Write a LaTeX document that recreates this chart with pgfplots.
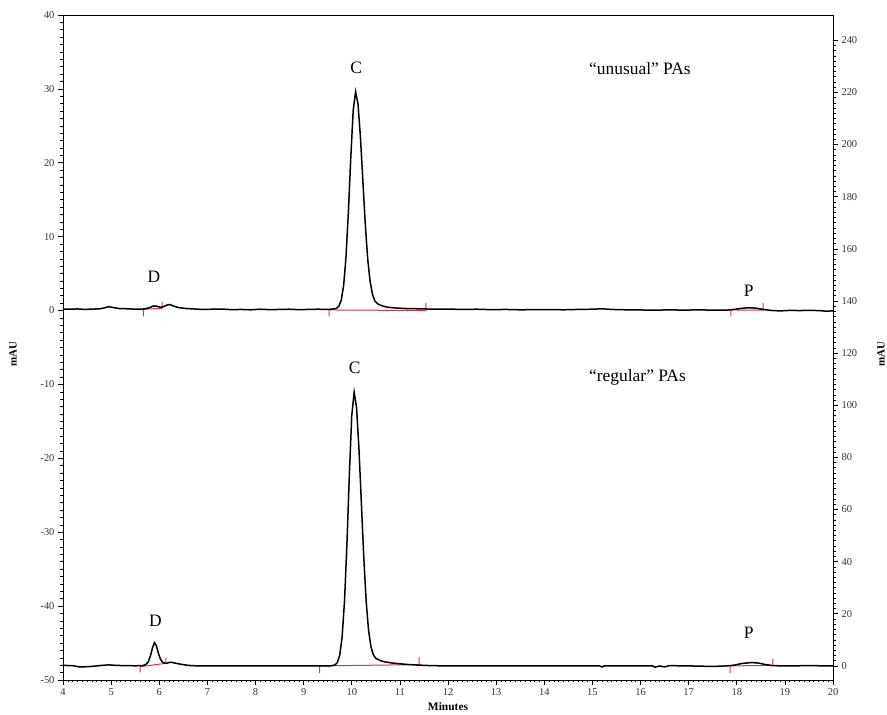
\documentclass[border=0pt]{standalone}
\usepackage{fontspec}
\setmainfont{Liberation Serif}
\usepackage{pgfplots}
\pgfplotsset{compat=1.18}
\definecolor{redbase}{RGB}{210,55,70}
\definecolor{tickgray}{RGB}{50,50,50}
\begin{document}
\begin{tikzpicture}
\pgfplotsset{
  common/.style={
    scale only axis, width=770bp, height=665bp,
    xmin=4, xmax=20,
    tick align=outside,
    major tick length=5bp, minor tick length=2.5bp,
    tick style={line width=0.6bp, black},
    ticklabel style={font=\fontsize{10.5}{12}\selectfont, text=tickgray},
    /pgf/number format/assume math mode=true,
    axis line style={line width=0.8bp},
  }
}
\begin{axis}[common,
  ymin=-50, ymax=40, ytick={-50,-40,...,40}, minor y tick num=9,
  xtick={4,...,20}, minor x tick num=9,
  xtick pos=bottom, ytick pos=left,
  xlabel={\bfseries Minutes},
  xlabel style={at={(rel axis cs:0.5,0)}, anchor=center, yshift=-27bp, font=\fontsize{11.5}{13}\selectfont},
]
\coordinate (SW) at (rel axis cs:0,0);
\coordinate (NE) at (rel axis cs:1,1);
\coordinate (LM) at (rel axis cs:0,0.49);
\coordinate (RM) at (rel axis cs:1,0.49);
% red baselines (top trace)
\addplot[redbase, line width=1bp] coordinates {(5.67,-0.8) (5.67,0.18) (6.06,0.3) (6.06,1.2)};
\addplot[redbase, line width=1bp] coordinates {(9.53,-0.8) (9.53,0.08) (11.54,0.0) (11.54,1.0)};
\addplot[redbase, line width=1bp] coordinates {(17.88,-0.8) (17.88,0.08) (18.55,0.05) (18.55,1.0)};
% top trace
\addplot[black, line width=1.5bp] coordinates {
(4.00,0.20) (4.15,0.18) (4.30,0.22) (4.45,0.15) (4.60,0.20) (4.75,0.22) (4.85,0.35) (4.95,0.52) (5.05,0.40) (5.15,0.28) (5.30,0.25) (5.45,0.20) (5.60,0.18) (5.70,0.22) (5.80,0.40) (5.88,0.62) (5.95,0.58) (6.02,0.45) (6.08,0.50) (6.15,0.72) (6.22,0.82) (6.30,0.60) (6.40,0.40) (6.55,0.28) (6.70,0.22) (6.90,0.15) (7.10,0.18) (7.30,0.20) (7.50,0.12) (7.70,0.15) (7.90,0.10) (8.10,0.18) (8.30,0.12) (8.50,0.15) (8.70,0.18) (8.90,0.12) (9.10,0.15) (9.30,0.18) (9.50,0.15) (9.60,0.20)
(9.68,0.29) (9.73,0.56) (9.78,1.36) (9.83,3.3) (9.88,7.2) (9.93,13.3) (9.98,20.7) (10.03,27.1) (10.08,29.6) (10.13,27.95) (10.18,23.5) (10.23,17.7) (10.28,11.8) (10.33,7.1) (10.38,4.0) (10.43,2.2) (10.48,1.3) (10.55,0.85) (10.65,0.6) (10.75,0.45) (10.90,0.35) (11.10,0.28) (11.30,0.25) (11.50,0.22)
(11.70,0.18) (12.00,0.20) (12.30,0.15) (12.60,0.18) (12.90,0.12) (13.20,0.15) (13.50,0.10) (13.80,0.12) (14.10,0.14) (14.40,0.10) (14.70,0.15) (15.00,0.18) (15.20,0.24) (15.40,0.15) (15.70,0.10) (16.00,0.08) (16.30,0.04) (16.60,0.10) (16.90,0.05) (17.20,0.10) (17.50,0.05) (17.80,0.06) (17.95,0.15) (18.10,0.30) (18.25,0.38) (18.40,0.32) (18.55,0.15) (18.70,0.02) (18.90,-0.05) (19.10,0.02) (19.30,0.0) (19.50,0.02) (19.70,0.0) (19.85,-0.08) (20.00,-0.05)
};
% labels
\node[font=\fontsize{17.5}{20}\selectfont] at (axis cs:10.09,32.8) {C};
\node[font=\fontsize{17.5}{20}\selectfont, anchor=west] at (axis cs:14.86,32.8) {“unusual” PAs};
\node[font=\fontsize{17.5}{20}\selectfont] at (axis cs:5.89,4.6) {D};
\node[font=\fontsize{17.5}{20}\selectfont] at (axis cs:18.25,2.65) {P};
\node[font=\fontsize{17.5}{20}\selectfont] at (axis cs:10.06,-7.8) {C};
\node[font=\fontsize{17.5}{20}\selectfont, anchor=west] at (axis cs:14.86,-9.1) {“regular” PAs};
\node[font=\fontsize{17.5}{20}\selectfont] at (axis cs:5.92,-42.0) {D};
\node[font=\fontsize{17.5}{20}\selectfont] at (axis cs:18.25,-43.6) {P};
\end{axis}
\begin{axis}[common,
  axis x line=none, axis y line*=right,
  ymin=-5.4, ymax=249.7, ytick={0,20,...,240}, minor y tick num=9,
]
% red baselines (bottom trace)
\addplot[redbase, line width=1bp] coordinates {(5.60,-2.5) (5.60,-0.3) (6.14,1.0) (6.14,3.0)};
\addplot[redbase, line width=1bp] coordinates {(9.33,-2.8) (9.33,0.0) (11.40,0.5) (11.40,3.4)};
\addplot[redbase, line width=1bp] coordinates {(17.86,-2.8) (17.86,0.0) (18.75,0.2) (18.75,2.8)};
% bottom trace
\addplot[black, line width=1.5bp] coordinates {
(4.00,0.2) (4.20,0.1) (4.35,-0.4) (4.50,-0.3) (4.65,-0.1) (4.80,0.2) (4.95,0.4) (5.10,0.2) (5.30,0.1) (5.50,0.05) (5.65,0.1) (5.72,0.5) (5.77,1.5) (5.82,4.0) (5.86,7.0) (5.90,8.9) (5.94,7.8) (5.98,5.0) (6.02,2.8) (6.06,1.6) (6.10,1.1) (6.15,1.0) (6.20,1.3) (6.25,1.4) (6.30,1.2) (6.40,0.8) (6.50,0.5) (6.60,0.2) (6.75,0.05) (7.00,0.0) (7.50,0.0) (8.00,0.0) (8.50,0.0) (9.00,0.0) (9.55,0.0)
(9.65,0.35) (9.70,1.3) (9.75,4.1) (9.80,11.1) (9.85,25.0) (9.90,46.8) (9.95,73.3) (10.00,96.0) (10.05,105.0) (10.10,99.1) (10.15,83.3) (10.20,62.4) (10.25,41.6) (10.30,24.7) (10.35,13.5) (10.40,7.3) (10.45,4.2) (10.50,2.9) (10.60,2.0) (10.70,1.5) (10.85,1.1) (11.00,0.8) (11.20,0.5) (11.40,0.3) (11.60,0.15) (11.80,0.05) (12.00,0.0)
(13.00,0.0) (14.00,0.0) (15.15,0.0) (15.20,-0.4) (15.25,0.0) (16.25,0.0) (16.30,-0.5) (16.40,0.0) (16.50,-0.4) (16.60,0.1) (17.00,0.0) (17.50,-0.2) (17.80,0.0) (17.95,0.3) (18.10,0.9) (18.30,1.3) (18.45,1.1) (18.60,0.5) (18.75,0.1) (19.00,0.0) (19.50,0.1) (20.00,0.0)
};
\end{axis}
\node[rotate=90, font=\fontsize{11}{13}\selectfont\bfseries] at ([xshift=-50bp]LM) {mAU};
\node[rotate=90, font=\fontsize{11}{13}\selectfont\bfseries] at ([xshift=48bp]RM) {mAU};
\pgfresetboundingbox
\path ([shift={(-63bp,-35bp)}]SW) rectangle ([shift={(54bp,15bp)}]NE);
\end{tikzpicture}
\end{document}
